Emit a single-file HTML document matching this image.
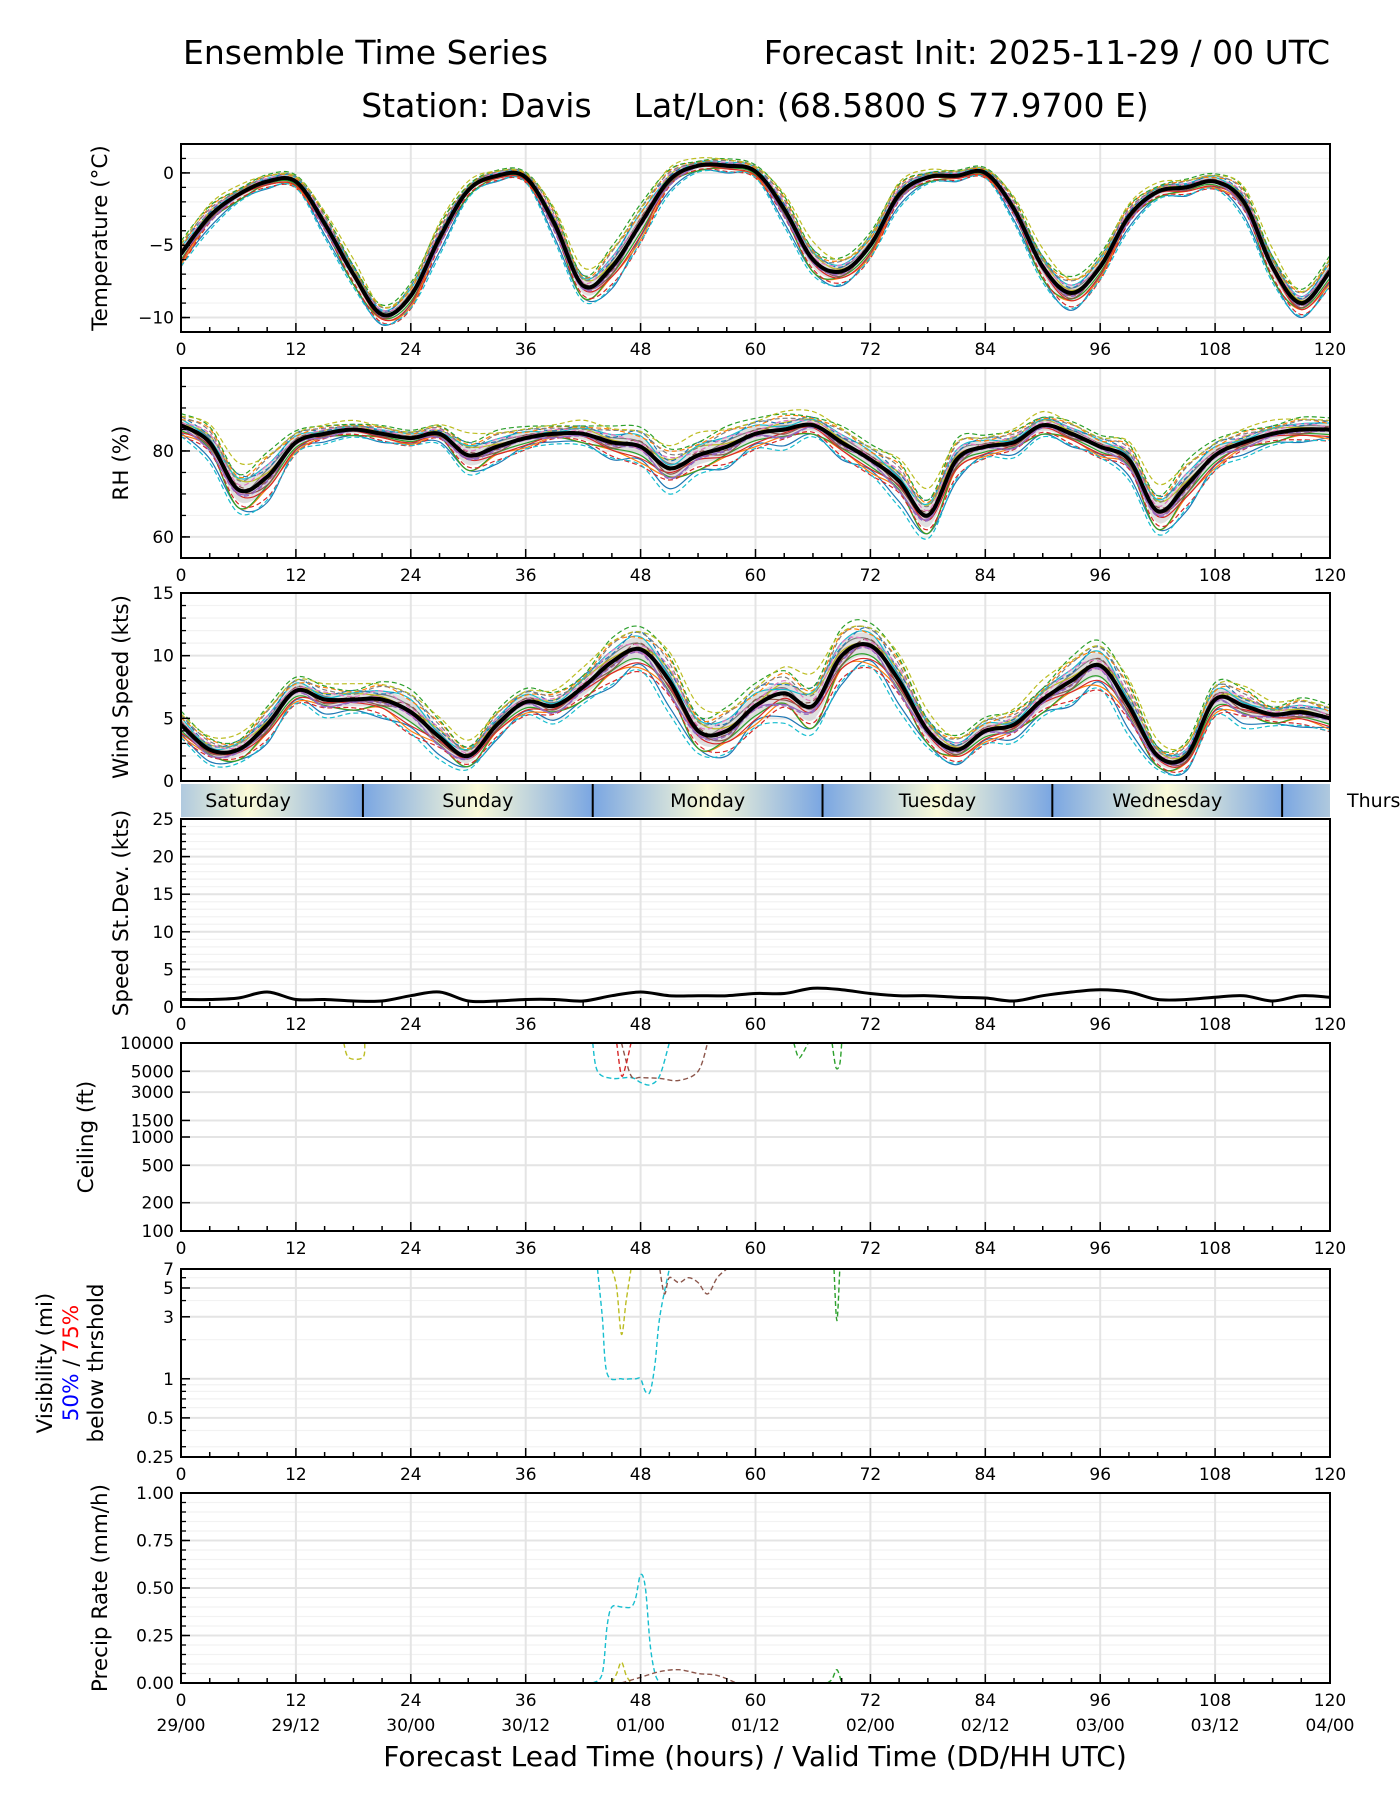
<!DOCTYPE html>
<html><head><meta charset="utf-8"><style>
html,body{margin:0;padding:0;background:#fff;width:1400px;height:1800px;overflow:hidden}
svg{display:block;font-family:"DejaVu Sans","Liberation Sans",sans-serif}
</style></head><body>
<svg id="chart" width="1400" height="1800" viewBox="0 0 1400 1800" xmlns="http://www.w3.org/2000/svg">
<text x="183" y="64" font-size="33" fill="#000">Ensemble Time Series</text>
<text x="1330" y="64" font-size="33" fill="#000" text-anchor="end">Forecast Init: 2025-11-29 / 00 UTC</text>
<text x="755" y="117" font-size="33" fill="#000" text-anchor="middle" xml:space="preserve">Station: Davis    Lat/Lon: (68.5800 S 77.9700 E)</text>
<text x="755" y="1766" font-size="28" fill="#000" text-anchor="middle">Forecast Lead Time (hours) / Valid Time (DD/HH UTC)</text>
</svg>
<script>
// ---- data (3-hourly, lead hours 0..120) ----
const hours = [0,3,6,9,12,15,18,21,24,27,30,33,36,39,42,45,48,51,54,57,60,63,66,69,72,75,78,81,84,87,90,93,96,99,102,105,108,111,114,117,120];
const tempMean = [-5.6,-3,-1.5,-0.6,-0.6,-3.5,-7,-9.8,-8.5,-4.5,-1.2,-0.2,-0.3,-3.5,-7.8,-6.5,-3.5,-0.5,0.5,0.5,0.1,-2.5,-6,-6.8,-5,-1.5,-0.3,-0.2,0,-2.5,-6.5,-8.3,-6.5,-3,-1.3,-1,-0.6,-2,-6.5,-9,-6.8];
const tempSpread = [1,0.8,0.6,0.5,0.5,0.8,1,0.7,1,1,0.6,0.4,0.4,1,1.2,1.5,1.5,0.8,0.5,0.5,0.5,1,1.2,1,1,0.8,0.5,0.4,0.4,0.8,1.2,1.2,1,0.8,0.6,0.6,0.6,1,1.2,1,1.2];
const rhMean = [86,82,71,74,82,84,85,84,83,84,79,81,83,84,84,82,81,76,79,81,84,85,86,82,78,73,65,78,81,82,86,84,81,78,66,72,79,82,84,85,85];
const rhSpread = [3,4,6,6,3,2,2,2,2,2,5,4,3,2,3,4,5,5,5,5,4,4,3,4,4,5,6,5,3,3,3,3,3,4,6,6,4,3,3,3,3];
const windMean = [4.5,2.5,2.5,4.5,7.2,6.5,6.5,6.5,5.5,3.5,2,4.5,6.3,6,7.5,9.5,10.5,8,4,4,6,7,6,10,10.8,8,4,2.5,4,4.5,6.5,8,9.2,6,2,2,6.5,6,5.3,5.5,5];
const windSpread = [1.2,1,1.2,1.5,1.2,1.2,1.2,1.5,2,1.5,1.2,1.2,1.2,1.2,1.5,2,2,2.2,2,2,2,2,2.5,2.3,2,2,1.5,1.2,1.2,1.2,1.5,2,2.2,2,1.2,1.2,1.5,1.5,1,1.2,1.2];
const sdMean = [1,1,1.2,2,1,1,0.8,0.8,1.5,2,0.8,0.8,1,1,0.8,1.5,2,1.5,1.5,1.5,1.8,1.8,2.5,2.3,1.8,1.5,1.5,1.3,1.2,0.8,1.5,2,2.3,2,1,1,1.3,1.5,0.8,1.5,1.3];
const memberFactors = [-0.8,-0.6,-0.5,-0.35,-0.25,-0.12,0,0.12,0.25,0.35,0.5,0.6,0.8,-0.7,-0.3,0.05,0.3,0.55,0.9,-1.0];
const memberWiggle = [[0.2,-0.15,0.1,-0.2],[-0.15,0.2,-0.1,0.15],[0.1,0.1,-0.2,0.15],[-0.2,0.15,0.15,-0.1],[0.15,-0.2,0.1,0.1]];
const memberDashed = [false,false,false,false,false,false,false,false,false,false,true,true,true,true,true,true,true,true,true,true];
const colors = ['#1f77b4','#ff7f0e','#2ca02c','#d62728','#9467bd','#8c564b','#e377c2','#7f7f7f','#bcbd22','#17becf'];
const ceilHours1 = [17,17.5,19,19.2]; const ceilVals1 = [10000,7000,7000,10000];
const ceilHours2 = [43,43.5,45,47,48,49,50,51]; const ceilVals2 = [10000,5000,4200,4300,3800,3600,4500,10000];
const ceilHours3 = [46,47,48,50,52,54,55]; const ceilVals3 = [10000,4500,4300,4200,4000,5000,10000];
const ceilHours4 = [45.5,46,46.5,47]; const ceilVals4 = [10000,4500,6000,10000];
const ceilHours5 = [64,64.5,65,65.5]; const ceilVals5 = [10000,7000,8000,10000];
const ceilHours6 = [68,68.4,68.8,69]; const ceilVals6 = [10000,5500,6000,10000];
const visHours1 = [43.5,44,44.5,46,47,47.5,48,48.5,49,49.5,50,51]; const visVals1 = [7,3,1.1,1,1,1,1,0.8,0.8,1.3,3,7];
const visHours2 = [45,45.5,46,46.5,47]; const visVals2 = [7,5,2.2,4,7];
const visHours3 = [50,50.5,51,52,53,54,55,56,57]; const visVals3 = [7,4.5,6,5.5,6,5.5,4.5,6,7];
const visHours4 = [68.2,68.5,68.8]; const visVals4 = [7,2.8,7];
const precHours1 = [43,44,44.5,45,46,47,47.5,48,48.5,49,49.5,50]; const precVals1 = [0,0.05,0.3,0.4,0.4,0.4,0.45,0.57,0.5,0.2,0.05,0];
const precHours2 = [45,45.5,46,46.5,47]; const precVals2 = [0,0.05,0.11,0.04,0];
const precHours3 = [46,48,50,52,54,56,58]; const precVals3 = [0,0.03,0.06,0.07,0.05,0.04,0];
const precHours4 = [67.5,68,68.5,69]; const precVals4 = [0,0.02,0.07,0];
const dayNames = ['Saturday','Sunday','Monday','Tuesday','Wednesday','Thursday'];
const dayBounds = [19,43,67,91,115];
const dateLabels = ['29/00','29/12','30/00','30/12','01/00','01/12','02/00','02/12','03/00','03/12','04/00'];

const NS='http://www.w3.org/2000/svg';
const svg=document.getElementById('chart');
const L=181,R=1330;
const xs=h=>L+h/120*(R-L);
function el(tag,attrs,parent){const e=document.createElementNS(NS,tag);for(const k in attrs)e.setAttribute(k,attrs[k]);(parent||svg).appendChild(e);return e;}

function makePanel(name,top,bot,ymin,ymax,log,major,minor,ylabel,ylx,tickFmt,noX){
  const g=el('g',{});
  
  
  const f=log?(v=>Math.log(v)):(v=>v);
  const ys=v=>bot-(f(v)-f(ymin))/(f(ymax)-f(ymin))*(bot-top);
  const clipId='clip-'+name;
  const cp=el('clipPath',{id:clipId},g);el('rect',{x:L,y:top,width:R-L,height:bot-top},cp);
  minor.forEach(v=>{const y=ys(v);el('line',{x1:L,x2:R,y1:y,y2:y,stroke:'#f2f2f2','stroke-width':1.2},g);});
  for(let h=0;h<=120;h+=12){el('line',{x1:xs(h),x2:xs(h),y1:top,y2:bot,stroke:'#e4e4e4','stroke-width':2},g);}
  major.forEach(v=>{const y=ys(v);el('line',{x1:L,x2:R,y1:y,y2:y,stroke:'#e4e4e4','stroke-width':2},g);});
  const plot=el('g',{'clip-path':'url(#'+clipId+')'},g);
  for(let h=0;h<=120;h+=3){const big=h%12==0;el('line',{x1:xs(h),x2:xs(h),y1:bot,y2:bot-(big?9:5),stroke:'#000','stroke-width':1.5},g);}
  minor.forEach(v=>{const y=ys(v);el('line',{x1:L,x2:L+5,y1:y,y2:y,stroke:'#000','stroke-width':1.3},g);});
  major.forEach(v=>{const y=ys(v);el('line',{x1:L,x2:L+9,y1:y,y2:y,stroke:'#000','stroke-width':1.5},g);
    const t=el('text',{x:L-7,y:y+6,'font-size':17,'text-anchor':'end'},g);t.textContent=tickFmt?tickFmt(v):(v<0?'\u2212'+(-v):String(v));
    
    });
  if(!noX){for(let h=0;h<=120;h+=12){const t=el('text',{x:xs(h),y:bot+23,'font-size':17,'text-anchor':'middle'},g);t.textContent=h;
    
    }}
  if(ylabel){const yc=(top+bot)/2;const t=el('text',{x:ylx,y:yc,'font-size':21.5,'text-anchor':'middle',transform:'rotate(-90 '+ylx+' '+yc+')'},g);t.textContent=ylabel;
    
    }
  el('rect',{x:L,y:top,width:R-L,height:bot-top,fill:'none',stroke:'#000','stroke-width':2},g);
  return {plot,ys};
}
function smoothD(pts){
  let d='M'+pts[0][0].toFixed(1)+','+pts[0][1].toFixed(1);
  for(let i=0;i<pts.length-1;i++){
    const p0=pts[Math.max(0,i-1)],p1=pts[i],p2=pts[i+1],p3=pts[Math.min(pts.length-1,i+2)];
    const c1x=p1[0]+(p2[0]-p0[0])/6,c1y=p1[1]+(p2[1]-p0[1])/6,c2x=p2[0]-(p3[0]-p1[0])/6,c2y=p2[1]-(p3[1]-p1[1])/6;
    d+='C'+c1x.toFixed(1)+','+c1y.toFixed(1)+' '+c2x.toFixed(1)+','+c2y.toFixed(1)+' '+p2[0].toFixed(1)+','+p2[1].toFixed(1);
  }
  return d;
}
function path(plot,hs,vs,xsf,ysf,stroke,w,dash,nm,smooth){
  const pts=hs.map((h,i)=>[xsf(h),ysf(vs[i])]);
  const d=smooth?smoothD(pts):pts.map((p,i)=>(i?'L':'M')+p[0].toFixed(1)+','+p[1].toFixed(1)).join('');
  const p=el('path',{d,fill:'none',stroke,'stroke-width':w,'stroke-linejoin':'round'},plot);
  if(dash)p.setAttribute('stroke-dasharray','5,3');
  
  
  return p;
}
function ensemble(P,mean,spread,name,lo,hi){
  const up=hours.map((h,i)=>[xs(h),P.ys(mean[i]+spread[i]*0.45)]);
  const dn=hours.map((h,i)=>[xs(h),P.ys(mean[i]-spread[i]*0.45)]).reverse();
  const band=el('path',{d:smoothD(up)+smoothD(dn).replace('M','L')+'Z',fill:'#cccccc','fill-opacity':0.6},P.plot);
  
  
  memberFactors.forEach((fct,m)=>{
    const w=memberWiggle[m%memberWiggle.length];
    const vals=mean.map((v,i)=>{let r=v+spread[i]*(fct+w[i%4]);if(lo!=null)r=Math.max(lo,r);if(hi!=null)r=Math.min(hi,r);return r;});
    path(P.plot,hours,vals,xs,P.ys,colors[m%10],1.2,memberDashed[m],name+'-member-'+m,true);
  });
  path(P.plot,hours,mean,xs,P.ys,'#000',4,false,name+'-ensemble-mean',true);
}
const rng=(a,b,s)=>{const r=[];for(let v=a;v<=b+1e-9;v+=s)r.push(+v.toFixed(3));return r;};

const P1=makePanel('temperature',144,332,-11,2,false,[0,-5,-10],rng(-11,2,1),'Temperature (°C)',107);
ensemble(P1,tempMean,tempSpread,'temperature',null,null);
const P2=makePanel('rh',368,558,55.1,99.3,false,[60,80],rng(60,95,5),'RH (%)',128);
ensemble(P2,rhMean,rhSpread,'rh',null,99.3);
const P3=makePanel('wind',593,781,0,15,false,[0,5,10,15],rng(0,15,1),'Wind Speed (kts)',128,null,true);
ensemble(P3,windMean,windSpread,'wind',0,null);

const strip=el('g',{});


const defs=el('defs',{},strip);
const lg=el('linearGradient',{id:'dayGrad',x1:'0',x2:'1',y1:'0',y2:'0'},defs);
el('stop',{offset:'0','stop-color':'#7aa6e2'},lg);el('stop',{offset:'0.5','stop-color':'#fafad8'},lg);el('stop',{offset:'1','stop-color':'#7aa6e2'},lg);
const scp=el('clipPath',{id:'stripclip'},strip);el('rect',{x:L,y:784,width:R-L,height:33},scp);
const sg=el('g',{'clip-path':'url(#stripclip)'},strip);
[-5].concat(dayBounds).forEach(b=>{el('rect',{x:xs(b),y:784,width:xs(24)-xs(0),height:33,fill:'url(#dayGrad)'},sg);});
dayBounds.forEach(b=>{const ln=el('line',{x1:xs(b),x2:xs(b),y1:784,y2:817,stroke:'#000','stroke-width':2},strip);
  
  });
dayNames.forEach((d,i)=>{const c=i<5?xs(-5+24*i+12):1347;const t=el('text',{x:c,y:807,'font-size':19,'text-anchor':i<5?'middle':'start'},strip);t.textContent=i<5?d:'Thurs';
  
  });

const P4=makePanel('speed-stdev',819,1007,0,25,false,[0,5,10,15,20,25],rng(0,25,1),'Speed St.Dev. (kts)',128);
path(P4.plot,hours,sdMean,xs,P4.ys,'#000',3,false,'speed-stdev-line',true);

const P5=makePanel('ceiling',1043,1231,100,10000,true,[10000,5000,3000,1500,1000,500,200,100],[],'Ceiling (ft)',93);
[[ceilHours1,ceilVals1,'#bcbd22'],[ceilHours2,ceilVals2,'#17becf'],[ceilHours3,ceilVals3,'#8c564b'],[ceilHours4,ceilVals4,'#d62728'],[ceilHours5,ceilVals5,'#2ca02c'],[ceilHours6,ceilVals6,'#2ca02c']].forEach((s,i)=>path(P5.plot,s[0],s[1],xs,P5.ys,s[2],1.4,true,'ceiling-member-'+i,true));

const P6=makePanel('visibility',1269,1457,0.25,7,true,[7,5,3,1,0.5,0.25],[0.3,0.4,0.6,0.7,0.8,0.9,2,4,6],null,0);
[[visHours1,visVals1,'#17becf'],[visHours2,visVals2,'#bcbd22'],[visHours3,visVals3,'#8c564b'],[visHours4,visVals4,'#2ca02c']].forEach((s,i)=>path(P6.plot,s[0],s[1],xs,P6.ys,s[2],1.4,true,'visibility-member-'+i,true));
(function(){const yc=1363;const lines=[[52,'Visibility (mi)'],[103,'below thrshold']];
  lines.forEach(l=>{const t=el('text',{x:l[0],y:yc,'font-size':21.5,'text-anchor':'middle',transform:'rotate(-90 '+l[0]+' '+yc+')'});t.textContent=l[1];
    
    });
  const t=el('text',{x:78,y:yc,'font-size':21.5,'text-anchor':'middle',transform:'rotate(-90 78 '+yc+')'});
  
  
  const a=el('tspan',{fill:'#0000ff'},t);a.textContent='50%';const b=el('tspan',{fill:'#000'},t);b.textContent=' / ';const c=el('tspan',{fill:'#ff0000'},t);c.textContent='75%';})();

const P7=makePanel('precip',1493,1683,0,1,false,[0,0.25,0.5,0.75,1],rng(0,1,0.05),'Precip Rate (mm/h)',107,v=>v.toFixed(2));
[[precHours1,precVals1,'#17becf'],[precHours2,precVals2,'#bcbd22'],[precHours3,precVals3,'#8c564b'],[precHours4,precVals4,'#2ca02c']].forEach((s,i)=>path(P7.plot,s[0],s[1],xs,P7.ys,s[2],1.4,true,'precip-member-'+i,true));
dateLabels.forEach((d,i)=>{const t=el('text',{x:xs(i*12),y:1731,'font-size':17,'text-anchor':'middle'});t.textContent=d;
  
  });
</script>
</body></html>
